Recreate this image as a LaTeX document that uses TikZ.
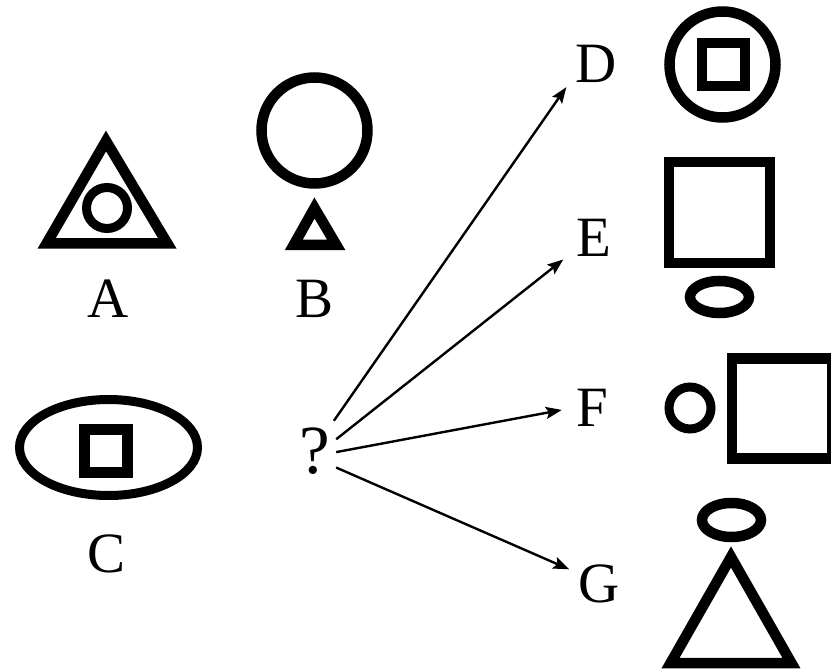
\documentclass[tikz,border=0pt]{standalone}
\usepackage{fontspec}
\setmainfont{Liberation Serif}
\usetikzlibrary{arrows.meta}

\begin{document}
\begin{tikzpicture}[x=1pt, y=-1pt,
    fig/.style={line width=10.5pt},
    figthin/.style={line width=9pt},
    lbl/.style={inner sep=0pt, font=\fontsize{57}{60}\selectfont},
    opt/.style={lbl, anchor=base, minimum width=60pt, minimum height=58pt},
    arr/.style={line width=2.4pt, -{Stealth[length=16pt, width=12pt, inset=3pt]}}]
            \useasboundingbox (0, 0) rectangle (831, 671);
            \draw[fig] (106, 141) -- (46.6, 243.5) -- (167.4, 243.5) -- cycle;
            \draw[figthin] (107, 208) circle (20.5);
            \node[lbl, anchor=base] (la) at (108, 318) {A};
            \draw[fig] (314.5, 130.5) circle (53);
            \draw[fig] (314.5, 208) -- (293.7, 245) -- (336.3, 245) -- cycle;
            \node[lbl, anchor=base] (lb) at (315, 318) {B};
            \draw[figthin] (108.5, 447.5) ellipse (89 and 48);
            \draw[fig] (84.5, 429.5) rectangle (127.5, 472.5);
            \node[lbl, anchor=base] (lc) at (106.5, 572) {C};
            \node[inner sep=0pt, minimum width=42pt, minimum height=60pt, font=\fontsize{69}{72}\selectfont] (q) at (315, 451) {?};
            \node[opt] (ld) at (596.5, 83) {D};
            \node[opt] (le) at (593.5, 257) {E};
            \node[opt] (lf) at (592, 427) {F};
            \node[opt] (lg) at (599.5, 602) {G};
            \draw[arr] (q.58) -- (ld.217);
            \draw[arr] (q.29) -- (le.215);
            \draw[arr] (q.-3) -- (lf.183);
            \draw[arr] (q.-38) -- (lg.155);
            \draw[fig] (722.5, 64.5) circle (53);
            \draw[fig] (702, 43) rectangle (745, 86);
            \draw[fig] (669, 162) rectangle (770, 263);
            \draw[fig] (719.5, 297) ellipse (29.5 and 16);
            \draw[figthin] (690, 408) circle (21);
            \draw[fig] (732, 358.5) rectangle (832, 458.5);
            \draw[fig] (731.5, 520) ellipse (29.5 and 17);
            \draw[fig] (731, 557) -- (670.6, 663) -- (791.4, 663) -- cycle;
\end{tikzpicture}
\end{document}
